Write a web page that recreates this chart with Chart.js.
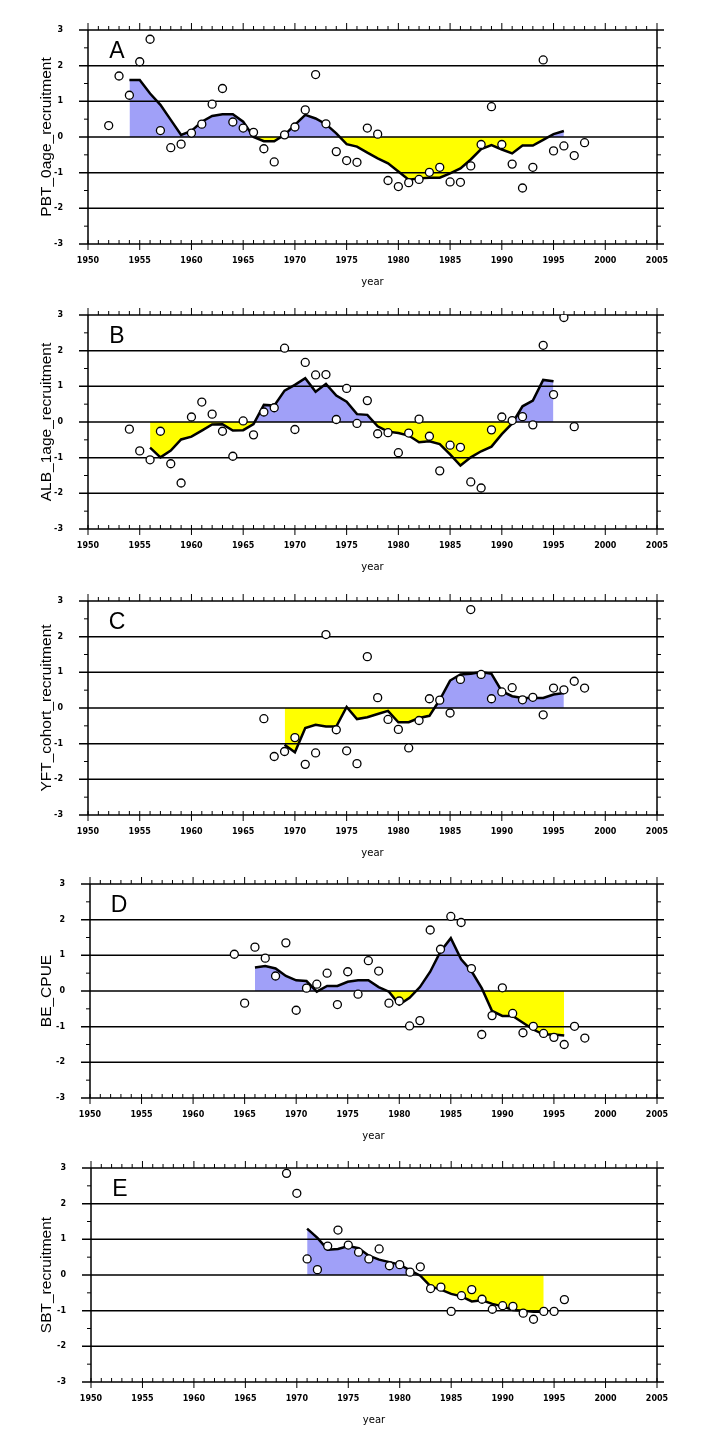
<!DOCTYPE html>
<html>
<head>
<meta charset="utf-8">
<script src="https://cdn.jsdelivr.net/npm/chart.js@4.4.1/dist/chart.umd.min.js"></script>
<style>
  body { margin:0; background:#fff; width:720px; height:1454px; position:relative; overflow:hidden; }
  canvas { position:absolute; left:0; }
</style>
</head>
<body>
<canvas id="cA" width="720" height="290"></canvas>
<canvas id="cB" width="720" height="290"></canvas>
<canvas id="cC" width="720" height="290"></canvas>
<canvas id="cD" width="720" height="290"></canvas>
<canvas id="cE" width="720" height="290"></canvas>
<script>
// x axis ticks (years) and y axis ticks
var xTicks = [1950, 1955, 1960, 1965, 1970, 1975, 1980, 1985, 1990, 1995, 2000, 2005];
var yTicks = [-3, -2, -1, 0, 1, 2, 3];

// A : PBT 0age recruitment
var aDotFrom = 1952;
var aDots = [0.32,1.71,1.17,2.11,2.74,0.18,-0.30,-0.20,0.11,0.36,0.92,1.36,0.42,0.25,0.13,-0.33,-0.70,0.06,0.28,0.76,1.75,0.37,-0.41,-0.66,-0.71,0.25,0.08,-1.22,-1.39,-1.28,-1.19,-0.99,-0.85,-1.26,-1.27,-0.81,-0.21,0.85,-0.21,-0.76,-1.43,-0.85,2.16,-0.39,-0.25,-0.52,-0.16];
var aLineFrom = 1954;
var aLine = [1.60,1.60,1.22,0.90,0.48,0.06,0.17,0.43,0.59,0.64,0.64,0.43,0.00,-0.12,-0.12,0.06,0.34,0.62,0.52,0.36,0.10,-0.20,-0.27,-0.44,-0.60,-0.74,-0.97,-1.20,-1.16,-1.14,-1.14,-1.02,-0.88,-0.63,-0.34,-0.23,-0.35,-0.46,-0.24,-0.24,-0.08,0.08,0.17];

// B : ALB 1age recruitment
var bDotFrom = 1954;
var bDots = [-0.20,-0.81,-1.06,-0.26,-1.17,-1.71,0.14,0.56,0.22,-0.26,-0.96,0.03,-0.36,0.28,0.40,2.07,-0.21,1.67,1.32,1.33,0.07,0.94,-0.04,0.60,-0.33,-0.30,-0.86,-0.31,0.08,-0.40,-1.37,-0.65,-0.71,-1.68,-1.85,-0.22,0.14,0.04,0.15,-0.08,2.15,0.77,2.93,-0.13];
var bLineFrom = 1956;
var bLine = [-0.72,-0.99,-0.80,-0.49,-0.41,-0.24,-0.07,-0.06,-0.24,-0.23,-0.06,0.48,0.46,0.88,1.04,1.23,0.85,1.07,0.74,0.57,0.22,0.20,-0.12,-0.27,-0.31,-0.38,-0.57,-0.54,-0.62,-0.91,-1.22,-0.99,-0.82,-0.69,-0.34,-0.04,0.44,0.60,1.18,1.14];

// C : YFT cohort recruitment
var cDotFrom = 1967;
var cDots = [-0.30,-1.36,-1.22,-0.83,-1.58,-1.26,2.06,-0.61,-1.20,-1.56,1.44,0.29,-0.32,-0.60,-1.12,-0.35,0.26,0.22,-0.14,0.80,2.76,0.94,0.26,0.45,0.57,0.23,0.30,-0.19,0.56,0.51,0.75,0.56];
var cLineFrom = 1969;
var cLine = [-1.03,-1.24,-0.56,-0.47,-0.52,-0.52,0.03,-0.31,-0.26,-0.17,-0.08,-0.40,-0.40,-0.28,-0.22,0.23,0.77,0.94,0.96,1.01,0.96,0.47,0.33,0.28,0.28,0.28,0.38,0.42];

// D : BE CPUE
var dDotFrom = 1964;
var dDots = [1.03,-0.34,1.23,0.92,0.42,1.35,-0.54,0.08,0.19,0.50,-0.38,0.54,-0.09,0.85,0.56,-0.34,-0.28,-0.98,-0.83,1.71,1.17,2.09,1.92,0.63,-1.22,-0.69,0.09,-0.63,-1.17,-0.99,-1.19,-1.30,-1.50,-0.99,-1.32];
var dLineFrom = 1966;
var dLine = [0.66,0.70,0.63,0.42,0.30,0.28,-0.02,0.14,0.14,0.26,0.30,0.30,0.11,-0.02,-0.38,-0.19,0.11,0.54,1.11,1.48,0.89,0.56,0.08,-0.56,-0.70,-0.70,-0.89,-1.08,-1.22,-1.22,-1.25];

// E : SBT recruitment
var eDotFrom = 1969;
var eDots = [2.85,2.29,0.45,0.15,0.81,1.26,0.84,0.64,0.45,0.73,0.26,0.29,0.08,0.23,-0.38,-0.34,-1.02,-0.58,-0.41,-0.68,-0.96,-0.86,-0.88,-1.07,-1.24,-1.02,-1.02,-0.69];
var eLineFrom = 1971;
var eLine = [1.30,1.04,0.71,0.73,0.81,0.75,0.54,0.43,0.36,0.29,0.13,-0.02,-0.32,-0.41,-0.53,-0.60,-0.74,-0.71,-0.81,-0.88,-0.98,-1.00,-1.03,-1.03];

var BLUE = 'rgb(160,160,248)';
var YELLOW = 'rgb(255,255,0)';

Chart.defaults.font.family = '"DejaVu Sans"';
Chart.defaults.color = '#000';

function toXY(from, vals){
  var out = [];
  for (var i = 0; i < vals.length; i++) out.push({x: from + i, y: vals[i]});
  return out;
}

// frame, gridlines and year ticks, drawn just after the filled area
var framePlugin = {
  id: 'frame',
  afterDatasetDraw: function(chart, args){
    if (args.index !== 0) return;
    var ctx = chart.ctx, xs = chart.scales.x, ys = chart.scales.y;
    var L = xs.getPixelForValue(1950), R = xs.getPixelForValue(2005);
    var T = ys.getPixelForValue(3), B = ys.getPixelForValue(-3);
    ctx.save();
    ctx.strokeStyle = '#000';
    ctx.lineWidth = 1.5;
    ctx.beginPath();
    yTicks.forEach(function(v){
      var py = ys.getPixelForValue(v);
      ctx.moveTo(L - 9, py); ctx.lineTo(R + 7, py);
    });
    ctx.moveTo(L, T); ctx.lineTo(L, B);
    ctx.moveTo(R, T); ctx.lineTo(R, B);
    ctx.stroke();
    ctx.lineWidth = 1;
    ctx.beginPath();
    for (var v = -2.5; v < 3; v++) {
      var py = ys.getPixelForValue(v);
      ctx.moveTo(L - 4, py); ctx.lineTo(L, py);
      ctx.moveTo(R, py); ctx.lineTo(R + 4, py);
    }
    for (var yr = 1950; yr <= 2005; yr++) {
      var px = xs.getPixelForValue(yr);
      var major = xTicks.indexOf(yr) >= 0;
      ctx.moveTo(px, T); ctx.lineTo(px, T - (major ? 7 : 4));
      ctx.moveTo(px, B - 4); ctx.lineTo(px, B + (major ? 6 : 0));
    }
    ctx.stroke();
    ctx.restore();
  },
  afterDraw: function(chart){
    var ctx = chart.ctx, a = chart.chartArea;
    ctx.save();
    ctx.fillStyle = '#000';
    ctx.font = '23px "Liberation Sans"';
    ctx.textAlign = 'center';
    ctx.textBaseline = 'middle';
    ctx.fillText(chart.options.plugins.frame.letter, a.left + 29, a.top + 22);
    ctx.restore();
  }
};

function makeChart(id, top, left, letter, yTitle, dotFrom, dots, lineFrom, line){
  var cv = document.getElementById(id);
  cv.style.top = (top - 30) + 'px';
  return new Chart(cv, {
    type: 'line',
    data: {
      datasets: [
        {
          data: toXY(lineFrom, line),
          borderWidth: 0,
          pointRadius: 0,
          fill: {target: 'origin', above: BLUE, below: YELLOW},
          order: 3
        },
        {
          data: toXY(lineFrom, line),
          borderColor: '#000',
          borderWidth: 2.5,
          pointRadius: 0,
          fill: false,
          order: 2
        },
        {
          data: toXY(dotFrom, dots),
          showLine: false,
          pointRadius: 4,
          pointBorderWidth: 1.3,
          pointBackgroundColor: '#fff',
          pointBorderColor: '#000',
          fill: false,
          order: 1
        }
      ]
    },
    options: {
      responsive: false,
      animation: false,
      events: [],
      layout: {padding: {top: 30, left: 0, right: 720 - 657, bottom: 0}},
      plugins: {
        legend: {display: false},
        tooltip: {enabled: false},
        frame: {letter: letter}
      },
      scales: {
        x: {
          type: 'linear',
          min: 1950, max: 2005,
          afterBuildTicks: function(s){ s.ticks = xTicks.map(function(v){ return {value: v}; }); },
          afterFit: function(s){ s.height = 46; },
          grid: {display: false},
          border: {display: false},
          ticks: {
            font: {size: 8, weight: 'bold'}, padding: 4, maxRotation: 0, autoSkip: false,
            callback: function(v){ return String(v); }
          },
          title: {display: true, text: 'year', font: {size: 10}, padding: {top: 0, bottom: 2}}
        },
        y: {
          min: -3, max: 3,
          afterBuildTicks: function(s){ s.ticks = yTicks.map(function(v){ return {value: v}; }); },
          afterFit: function(s){ s.width = left; },
          grid: {display: false},
          border: {display: false},
          ticks: {font: {size: 8, weight: 'bold'}, padding: 17, callback: function(v){ return String(v); }},
          title: {display: true, text: yTitle, font: {family: '"Liberation Sans"', size: 15.5}, padding: {top: 37, bottom: 0}}
        }
      }
    },
    plugins: [framePlugin]
  });
}

makeChart('cA', 30, 88, 'A', 'PBT_0age_recruitment', aDotFrom, aDots, aLineFrom, aLine);
makeChart('cB', 315, 88, 'B', 'ALB_1age_recruitment', bDotFrom, bDots, bLineFrom, bLine);
makeChart('cC', 601, 88, 'C', 'YFT_cohort_recruitment', cDotFrom, cDots, cLineFrom, cLine);
makeChart('cD', 884, 90, 'D', 'BE_CPUE', dDotFrom, dDots, dLineFrom, dLine);
makeChart('cE', 1168, 91, 'E', 'SBT_recruitment', eDotFrom, eDots, eLineFrom, eLine);
</script>
</body>
</html>
